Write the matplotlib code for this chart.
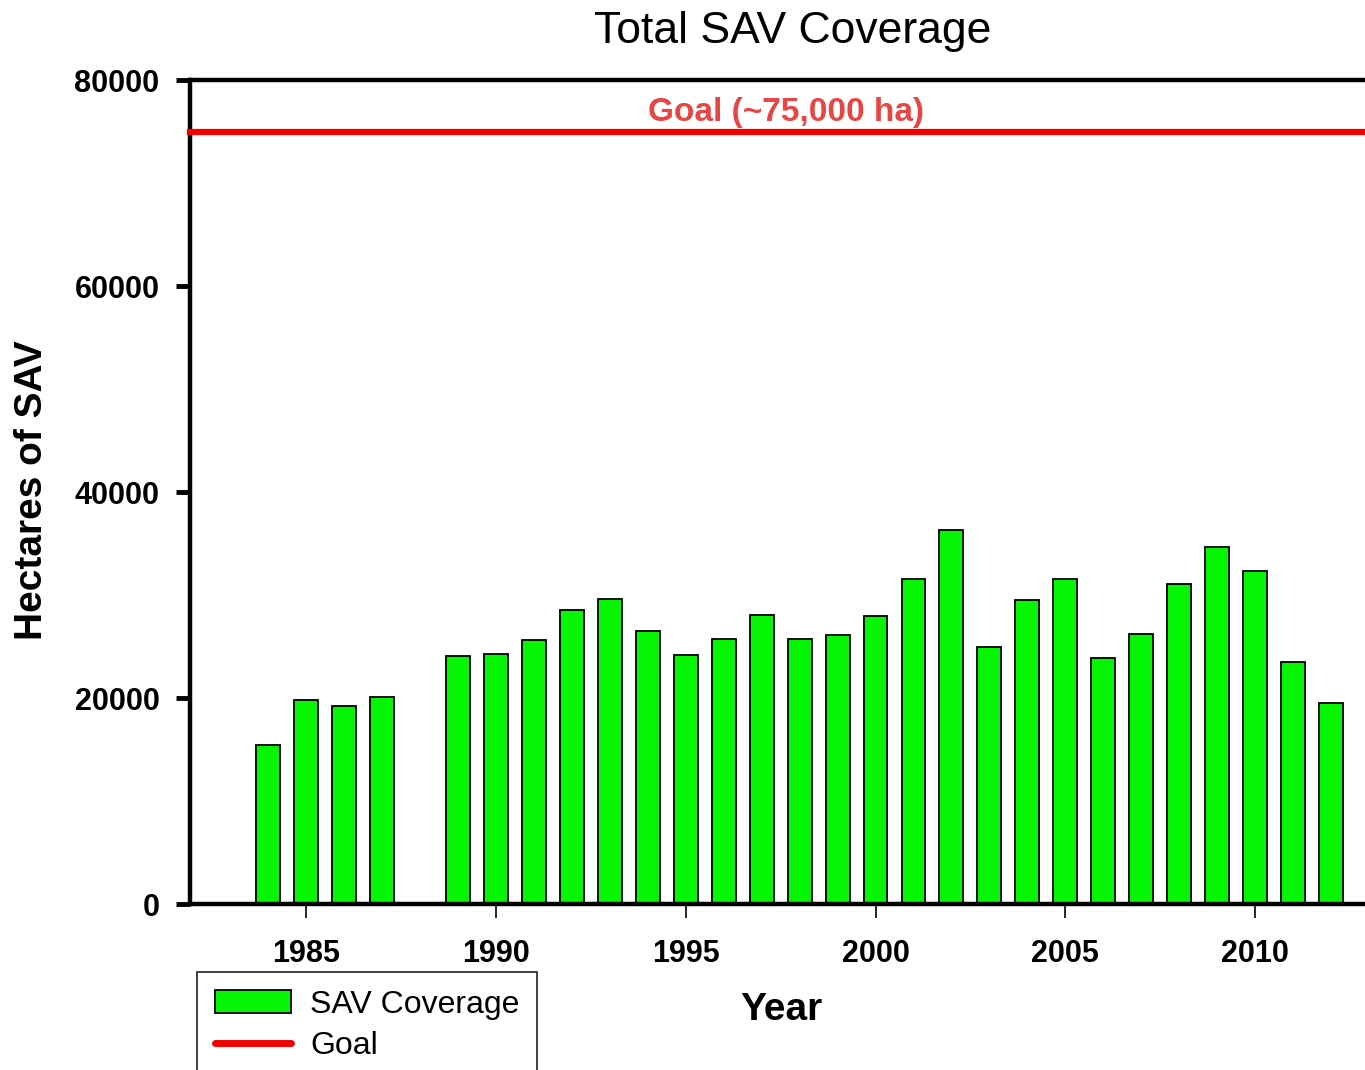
import numpy as np
from matplotlib import pyplot as plt
from matplotlib.lines import Line2D
from matplotlib.patches import Patch

years = [1984, 1985, 1986, 1987, 1989, 1990, 1991, 1992, 1993, 1994,
         1995, 1996, 1997, 1998, 1999, 2000, 2001, 2002, 2003, 2004,
         2005, 2006, 2007, 2008, 2009, 2010, 2011, 2012]
hectares = [15450, 19800, 19200, 20100, 24100, 24300, 25600, 28500, 29600, 26500,
            24200, 25700, 28100, 25700, 26100, 28000, 31600, 36300, 25000, 29500,
            31600, 23900, 26200, 31100, 34700, 32300, 23500, 19500]
goal = 75000
x_ticks = [1985, 1990, 1995, 2000, 2005, 2010]
y_ticks = [0, 20000, 40000, 60000, 80000]

plt.rcParams['font.family'] = ['Liberation Sans', 'DejaVu Sans']

W, H = 1365, 1070
fig = plt.figure(figsize=(W / 100, H / 100), dpi=100)
ax = fig.add_axes([190 / W, 1 - 904 / H, (1372 - 190) / W, (904 - 80) / H])

green = '#05f505'
ax.bar(years, hectares, width=0.63, color=green, edgecolor='black', linewidth=1.3, zorder=2)
ax.axhline(goal, color='#f20000', linewidth=4.5, zorder=3, clip_on=False)
ax.text(1997.65, 76000, 'Goal (~75,000 ha)', color='#e84545', fontsize=24,
        fontweight='bold', ha='center', va='baseline')

ax.set_xlim(1981.94, 2013.08)
ax.set_ylim(0, 80000)
ax.set_xticks(x_ticks)
ax.set_yticks(y_ticks)
ax.tick_params(axis='x', direction='out', length=10, width=1.2, pad=15, labelsize=22)
ax.tick_params(axis='y', direction='out', length=10, width=3.5, pad=12, labelsize=22)
for lab in ax.get_xticklabels() + ax.get_yticklabels():
    lab.set_fontweight('bold')

for side in ['left', 'bottom', 'top']:
    ax.spines[side].set_linewidth(3.2)
ax.spines['right'].set_visible(False)

fig.text(793 / W, 1 - 31 / H, 'Total SAV Coverage', fontsize=32, ha='center', va='center')
fig.text(781 / W, 1 - 1010 / H, 'Year', fontsize=28, fontweight='bold', ha='center', va='center')
fig.text(32 / W, 1 - 490 / H, 'Hectares of SAV', fontsize=28, fontweight='bold',
         ha='center', va='center', rotation=90)

# legend sits under the axes, partly cut by the figure edge
handles = [Patch(facecolor=green, edgecolor='black', linewidth=1.3, label='SAV Coverage'),
           Line2D([0], [0], color='#f20000', linewidth=5, solid_capstyle='round', label='Goal')]
leg = fig.legend(handles=handles, loc='upper left', bbox_to_anchor=(197 / W, 1 - 972 / H),
                 borderaxespad=0, fontsize=23, frameon=True, fancybox=False,
                 handlelength=2.4, handletextpad=0.6, labelspacing=0.35, borderpad=0.55)
leg.get_frame().set_edgecolor('black')
leg.get_frame().set_linewidth(1.3)

fig.savefig('out.png', dpi=100)
